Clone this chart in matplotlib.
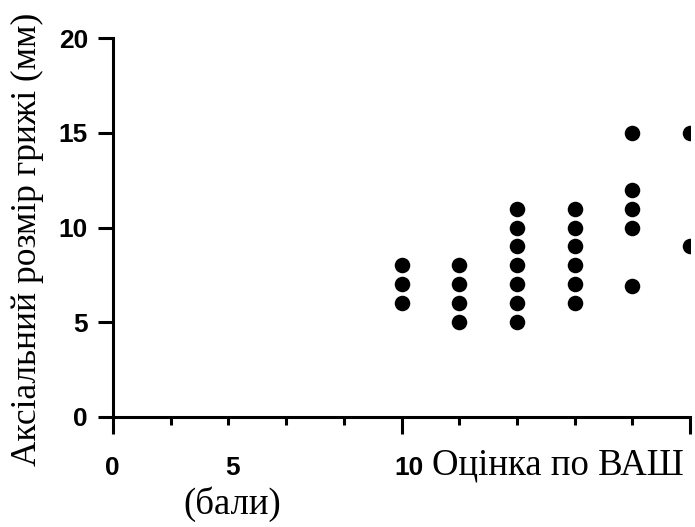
import matplotlib
matplotlib.use("Agg")
import matplotlib.pyplot as plt
from matplotlib.ticker import MultipleLocator

# VAS score (x) and axial hernia size in mm (y)
vas_5 = [6, 7, 8]
vas_6 = [5, 6, 7, 8]
vas_7 = [5, 6, 7, 8, 9, 10, 11]
vas_8 = [6, 7, 8, 9, 10, 11]
vas_9 = [6.9, 10, 11, 12, 15]
vas_10 = [9, 15]

groups = {5: vas_5, 6: vas_6, 7: vas_7, 8: vas_8, 9: vas_9, 10: vas_10}

y_ticks = [0, 5, 10, 15, 20]
x_tick_labels = ["0", "5", "10"]
x_label = "Оцінка по ВАШ"
x_label_unit = "(бали)"
y_label = "Аксіальний розмір грижі (мм)"

W, H = 695, 527
fig = plt.figure(figsize=(W / 100, H / 100), dpi=100)
ax = fig.add_axes([113 / W, 1 - 417 / H, (690 - 113) / W, (417 - 38) / H])

xs, ys = [], []
for k, vals in groups.items():
    xs += [k] * len(vals)
    ys += vals
ax.scatter(xs, ys, s=125, color="black", zorder=3, linewidths=0)

ax.set_xlim(0, 10)
ax.set_ylim(0, 20)
ax.set_yticks(y_ticks)
ax.xaxis.set_major_locator(MultipleLocator(5))
ax.xaxis.set_minor_locator(MultipleLocator(1))
ax.set_xticklabels([])

for s in ["top", "right"]:
    ax.spines[s].set_visible(False)
for s in ["left", "bottom"]:
    ax.spines[s].set_linewidth(2.2)

ax.tick_params(axis="y", which="major", length=11, width=2.2,
               labelsize=19, pad=7)
ax.tick_params(axis="x", which="major", length=12.5, width=2.2)
ax.tick_params(axis="x", which="minor", length=6, width=2.2)
for lbl in ax.get_yticklabels():
    lbl.set_fontfamily("Liberation Sans")
    lbl.set_fontweight("bold")

# x tick labels and axis title set in one text row
tick_font = dict(family="Liberation Sans", weight="bold", fontsize=19)
serif_font = dict(family="Liberation Serif", fontsize=26.5)
for lbl, px in zip(x_tick_labels, [112, 233, 409]):
    fig.text(px / W, 1 - 475 / H, lbl, ha="center", va="baseline", **tick_font)
fig.text(432 / W, 1 - 474 / H, x_label, ha="left", va="baseline", **serif_font)
fig.text(232 / W, 1 - 514 / H, x_label_unit, ha="center", va="baseline", **serif_font)
fig.text(27 / W, 1 - 239 / H, y_label, rotation=90, ha="center", va="center",
         family="Liberation Serif", fontsize=25.5)

fig.savefig("out.png", dpi=100)
